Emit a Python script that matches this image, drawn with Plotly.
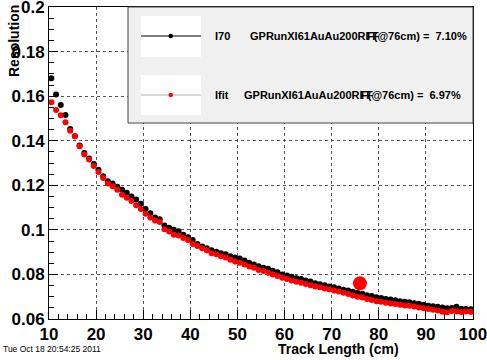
import plotly.graph_objects as go

track_length = [10.5 + i for i in range(90)]

res_i70 = [
    0.1680, 0.1607, 0.1560, 0.1515, 0.1453, 0.1420, 0.1378, 0.1345, 0.1320, 0.1296,
    0.1270, 0.1240, 0.1218, 0.1208, 0.1193, 0.1180, 0.1166, 0.1150, 0.1136, 0.1117,
    0.1094, 0.1075, 0.1055, 0.1048, 0.1019, 0.1010, 0.1001, 0.0994, 0.0978, 0.0967,
    0.0955, 0.0936, 0.0925, 0.0918, 0.0909, 0.0902, 0.0895, 0.0891, 0.0882, 0.0876,
    0.0871, 0.0862, 0.0852, 0.0845, 0.0837, 0.0830, 0.0825, 0.0817, 0.0810, 0.0800,
    0.0795, 0.0790, 0.0783, 0.0779, 0.0773, 0.0768, 0.0760, 0.0756, 0.0751, 0.0746,
    0.0742, 0.0737, 0.0731, 0.0728, 0.0722, 0.0717, 0.0713, 0.0707, 0.0703, 0.0698,
    0.0694, 0.0690, 0.0687, 0.0684, 0.0680, 0.0677, 0.0675, 0.0671, 0.0668, 0.0664,
    0.0660, 0.0657, 0.0655, 0.0652, 0.0648, 0.0649, 0.0655, 0.0646, 0.0645, 0.0644,
]

res_ifit = [
    0.1573, 0.1538, 0.1514, 0.1483, 0.1445, 0.1420, 0.1375, 0.1338, 0.1316, 0.1286,
    0.1260, 0.1233, 0.1208, 0.1196, 0.1180, 0.1158, 0.1144, 0.1129, 0.1110, 0.1094,
    0.1072, 0.1055, 0.1042, 0.1035, 0.1003, 0.0993, 0.0978, 0.0975, 0.0963, 0.0955,
    0.0936, 0.0928, 0.0918, 0.0909, 0.0895, 0.0890, 0.0882, 0.0876, 0.0866, 0.0858,
    0.0852, 0.0845, 0.0836, 0.0830, 0.0820, 0.0815, 0.0808, 0.0800, 0.0793, 0.0785,
    0.0779, 0.0773, 0.0767, 0.0763, 0.0757, 0.0752, 0.0746, 0.0743, 0.0737, 0.0733,
    0.0728, 0.0723, 0.0718, 0.0712, 0.0706, 0.0700, 0.0697, 0.0690, 0.0685, 0.0680,
    0.0677, 0.0673, 0.0670, 0.0667, 0.0664, 0.0661, 0.0659, 0.0656, 0.0652, 0.0648,
    0.0645, 0.0642, 0.0638, 0.0633, 0.0630, 0.0636, 0.0634, 0.0631, 0.0634, 0.0632,
]

ref_point_x = [76]
ref_point_y = [0.076]

x_ticks = [10, 20, 30, 40, 50, 60, 70, 80, 90, 100]
x_tick_labels = ["10", "20", "30", "40", "50", "60", "70", "80", "90", "100"]
y_ticks = [0.06, 0.08, 0.10, 0.12, 0.14, 0.16, 0.18, 0.20]
y_tick_labels = ["0.06", "0.08", "0.1", "0.12", "0.14", "0.16", "0.18", "0.2"]

legend_labels = ["I70", "Ifit"]
legend_names = ["GPRunXI61AuAu200RFF", "GPRunXI61AuAu200RFF"]
legend_values = ["F(@76cm) =  7.10%", "F(@76cm) =  6.97%"]

W, H = 487, 360
L, R, T, B = 49, 473, 7, 319
FONT = "Liberation Sans"


def px(x):
    return (x - L) / (R - L)


def py(y):
    return (B - y) / (B - T)


fig = go.Figure()
fig.add_trace(go.Scatter(x=track_length, y=res_i70, mode="markers",
                         marker=dict(color="black", size=6), showlegend=False))
fig.add_trace(go.Scatter(x=track_length, y=res_ifit, mode="markers",
                         marker=dict(color="#ff0000", size=6), showlegend=False))
fig.add_trace(go.Scatter(x=ref_point_x, y=ref_point_y, mode="markers",
                         marker=dict(color="#ff0000", size=14), showlegend=False))

shapes = []
annotations = []
shapes.append(dict(type="rect", xref="paper", yref="paper",
                   x0=px(128), x1=px(473), y0=py(123), y1=py(7),
                   fillcolor="#f0f0f0", line=dict(color="#444444", width=1), layer="above"))
rows = [(16, 57, 36, "black", "black", 248, 365), (75, 115, 95, "#b0b0b0", "#ff0000", 242, 359)]
for i, (yt, yb, yc, lc, mc, xs, xv) in enumerate(rows):
    shapes.append(dict(type="rect", xref="paper", yref="paper",
                       x0=px(141), x1=px(201), y0=py(yb), y1=py(yt),
                       fillcolor="white", line=dict(width=0), layer="above"))
    shapes.append(dict(type="line", xref="paper", yref="paper",
                       x0=px(141), x1=px(201), y0=py(yc), y1=py(yc),
                       line=dict(color=lc, width=1.2), layer="above"))
    shapes.append(dict(type="circle", xref="paper", yref="paper",
                       x0=px(168.5), x1=px(173), y0=py(yc + 2.3), y1=py(yc - 2.3),
                       fillcolor=mc, line=dict(width=0), layer="above"))
    annotations.append(dict(xref="paper", yref="paper", x=px(213), y=py(yc),
                            xanchor="left", yanchor="middle", showarrow=False,
                            text=legend_labels[i],
                            font=dict(family=FONT, size=11, color="black", weight="bold")))
    annotations.append(dict(xref="paper", yref="paper", x=px(xs), y=py(yc),
                            xanchor="left", yanchor="middle", showarrow=False,
                            text=legend_names[i],
                            font=dict(family=FONT, size=11, color="black", weight="bold")))
    annotations.append(dict(xref="paper", yref="paper", x=px(xv), y=py(yc),
                            xanchor="left", yanchor="middle", showarrow=False,
                            text=legend_values[i],
                            font=dict(family=FONT, size=11, color="black", weight="bold")))

annotations.append(dict(xref="paper", yref="paper", x=px(401), y=py(349),
                        xanchor="right", yanchor="middle", showarrow=False,
                        text="Track Length (cm)",
                        font=dict(family=FONT, size=14, color="black", weight="bold")))
annotations.append(dict(xref="paper", yref="paper", x=px(14), y=py(3),
                        xanchor="center", yanchor="top", showarrow=False, textangle=-90,
                        text="Resolution",
                        font=dict(family=FONT, size=14, color="black", weight="bold")))
annotations.append(dict(xref="paper", yref="paper", x=px(1), y=py(349),
                        xanchor="left", yanchor="middle", showarrow=False,
                        text="Tue Oct 18 20:54:25 2011",
                        font=dict(family=FONT, size=8.5, color="black")))

axis_common = dict(showline=True, linecolor="black", linewidth=1, mirror=True,
                   ticks="inside", tickcolor="black", zeroline=False,
                   showgrid=True, gridcolor="#555555", griddash="dot", gridwidth=1,
                   ticklabeloverflow="allow",
                   tickfont=dict(family=FONT, size=17, color="black", weight="bold"))

fig.update_layout(
    width=W, height=H,
    margin=dict(l=L, r=W - R, t=T, b=H - B, autoexpand=False),
    paper_bgcolor="white", plot_bgcolor="white",
    showlegend=False,
    shapes=shapes, annotations=annotations,
    xaxis=dict(range=[10, 100], tickmode="array", tickvals=x_ticks, ticktext=x_tick_labels,
               ticklen=9,
               minor=dict(dtick=2, tick0=10, ticklen=5, ticks="inside", tickcolor="black", showgrid=False),
               **axis_common),
    yaxis=dict(range=[0.06, 0.2], tickmode="array", tickvals=y_ticks, ticktext=y_tick_labels,
               ticklen=9,
               minor=dict(dtick=0.005, tick0=0.06, ticklen=5, ticks="inside", tickcolor="black", showgrid=False),
               **axis_common),
)

fig.write_html("out.html", config={"displayModeBar": False},
               post_script="document.body.style.margin='0';")
